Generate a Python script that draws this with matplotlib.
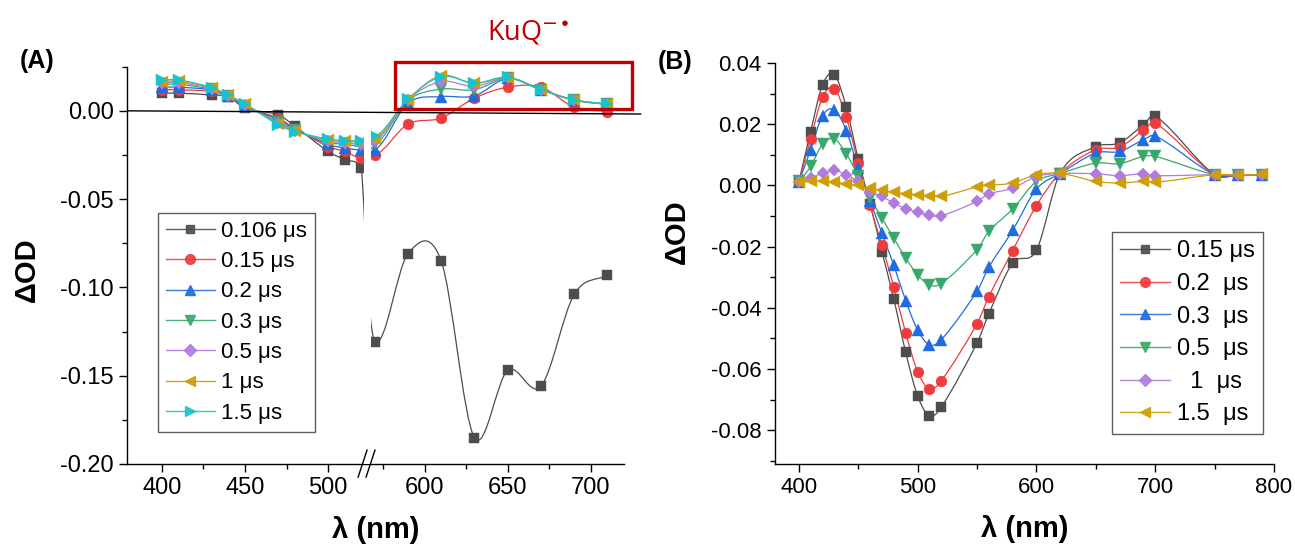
import numpy as np
import matplotlib
matplotlib.use("Agg")
import matplotlib.pyplot as plt
from matplotlib.path import Path
from matplotlib.patches import PathPatch, Rectangle
from matplotlib.lines import Line2D
from matplotlib.ticker import FixedLocator, MultipleLocator, FormatStrFormatter

plt.rcParams['font.family'] = ['Liberation Sans', 'DejaVu Sans']
plt.rcParams['axes.unicode_minus'] = False
plt.rcParams['mathtext.fontset'] = 'dejavusans'

# ---- panel A: spectra with a broken wavelength axis ----
wl_a_left = [400, 410, 430, 440, 450, 470, 480, 500, 510, 520]
wl_a_right = [570, 590, 610, 630, 650, 670, 690, 710]

a_labels = ['0.106 μs', '0.15 μs', '0.2 μs', '0.3 μs', '0.5 μs', '1 μs', '1.5 μs']
a_left = [
    [0.010, 0.010, 0.009, 0.008, 0.0015, -0.0023, -0.0087, -0.023, -0.0277, -0.0325],
    [0.0119, 0.0119, 0.011, 0.0083, 0.0022, -0.0041, -0.0100, -0.0202, -0.0230, -0.0268],
    [0.0134, 0.0134, 0.0118, 0.0084, 0.0025, -0.0050, -0.0104, -0.0190, -0.0210, -0.0222],
    [0.0150, 0.0150, 0.0122, 0.0085, 0.0030, -0.0062, -0.0110, -0.0178, -0.0190, -0.0200],
    [0.0160, 0.0160, 0.0126, 0.0086, 0.0034, -0.0070, -0.0113, -0.0172, -0.0180, -0.0190],
    [0.0166, 0.0168, 0.0130, 0.0087, 0.0037, -0.0075, -0.0115, -0.0165, -0.0172, -0.0178],
    [0.0175, 0.0175, 0.0132, 0.0087, 0.0040, -0.0079, -0.0117, -0.0160, -0.0168, -0.0168],
]
a_right = [
    [-0.131, -0.081, -0.085, -0.185, -0.147, -0.156, -0.104, -0.093],
    [-0.0250, -0.0075, -0.0041, 0.0072, 0.0134, 0.0135, 0.0021, -0.0004],
    [-0.0220, 0.0043, 0.0081, 0.0085, 0.0184, 0.0120, 0.0060, 0.0036],
    [-0.0190, 0.0058, 0.0123, 0.0119, 0.0185, 0.0120, 0.0062, 0.0037],
    [-0.0170, 0.0062, 0.0166, 0.0138, 0.0186, 0.0120, 0.0062, 0.0037],
    [-0.0157, 0.0064, 0.0200, 0.0155, 0.0188, 0.0120, 0.0062, 0.0038],
    [-0.0145, 0.0066, 0.0194, 0.0157, 0.0190, 0.0119, 0.0062, 0.0038],
]

# ---- panel B ----
wl_b = [400, 410, 420, 430, 440, 450, 460, 470, 480, 490, 500, 510, 520,
        550, 560, 580, 600, 620, 650, 670, 690, 700, 750, 770, 790]
b_labels = ['0.15 μs', '0.2  μs', '0.3  μs', '0.5  μs', '  1  μs', '1.5  μs']
b_vals = [
    [0.0010, 0.0176, 0.0329, 0.0362, 0.0255, 0.0087, -0.0060, -0.0216, -0.0371, -0.0545, -0.0687, -0.0753, -0.0724,
     -0.0515, -0.0419, -0.0254, -0.0212, 0.0040, 0.0127, 0.0139, 0.0198, 0.0228, 0.0035, 0.0034, 0.0035],
    [0.0010, 0.0152, 0.0289, 0.0316, 0.0223, 0.0073, -0.0065, -0.0196, -0.0332, -0.0482, -0.0608, -0.0665, -0.0638,
     -0.0452, -0.0363, -0.0213, -0.0066, 0.0040, 0.0117, 0.0125, 0.0180, 0.0204, 0.0035, 0.0034, 0.0035],
    [0.0010, 0.0117, 0.0228, 0.0247, 0.0179, 0.0057, -0.0050, -0.0156, -0.0261, -0.0376, -0.0472, -0.0521, -0.0504,
     -0.0346, -0.0267, -0.0147, -0.0012, 0.0039, 0.0106, 0.0111, 0.0149, 0.0162, 0.0035, 0.0034, 0.0035],
    [0.0013, 0.0062, 0.0135, 0.0152, 0.0103, 0.0032, -0.0040, -0.0107, -0.0172, -0.0237, -0.0292, -0.0325, -0.0321,
     -0.0210, -0.0150, -0.0077, 0.0013, 0.0039, 0.0073, 0.0071, 0.0095, 0.0095, 0.0035, 0.0034, 0.0035],
    [0.0010, 0.0024, 0.0040, 0.0049, 0.0035, 0.0013, -0.0020, -0.0036, -0.0058, -0.0076, -0.0087, -0.0098, -0.0099,
     -0.0052, -0.0028, -0.0009, 0.0029, 0.0039, 0.0038, 0.0032, 0.0038, 0.0032, 0.0035, 0.0034, 0.0035],
    [0.0011, 0.0013, 0.0013, 0.0012, 0.0005, 0.0000, -0.0009, -0.0016, -0.0022, -0.0027, -0.0030, -0.0034, -0.0036,
     -0.0005, 0.0000, 0.0008, 0.0035, 0.0040, 0.0013, 0.0008, 0.0013, 0.0010, 0.0035, 0.0034, 0.0036],
]

colors = ['#4d4d4d', '#ee3b3d', '#1f6be0', '#38a86b', '#b07ade', '#cf9d05', '#17c4cd']
markers = ['s', 'o', '^', 'v', 'D', '<', '>']
msizes = [6.8, 7.8, 8.5, 8.5, 6.3, 8.5, 8.5]

# axis break: 522..566 nm is squeezed into 2 units
GAP_A, GAP_B, GAP_W = 522.0, 566.0, 2.0


def brk_fwd(x):
    x = np.asarray(x, float)
    return np.where(x <= GAP_A, x,
                    np.where(x >= GAP_B, x - (GAP_B - GAP_A) + GAP_W,
                             GAP_A + (x - GAP_A) * GAP_W / (GAP_B - GAP_A)))


def brk_inv(x):
    x = np.asarray(x, float)
    return np.where(x <= GAP_A, x,
                    np.where(x >= GAP_A + GAP_W, x + (GAP_B - GAP_A) - GAP_W,
                             GAP_A + (x - GAP_A) * (GAP_B - GAP_A) / GAP_W))


def smooth_path(x, y):
    # cubic Hermite through the points, written as Bezier segments
    x = np.asarray(x, float)
    y = np.asarray(y, float)
    n = len(x)
    m = np.empty(n)
    m[0] = (y[1] - y[0]) / (x[1] - x[0])
    m[-1] = (y[-1] - y[-2]) / (x[-1] - x[-2])
    m[1:-1] = (y[2:] - y[:-2]) / (x[2:] - x[:-2])
    verts = [(x[0], y[0])]
    codes = [Path.MOVETO]
    for i in range(n - 1):
        h = x[i + 1] - x[i]
        verts += [(x[i] + h / 3, y[i] + m[i] * h / 3),
                  (x[i + 1] - h / 3, y[i + 1] - m[i + 1] * h / 3),
                  (x[i + 1], y[i + 1])]
        codes += [Path.CURVE4] * 3
    return Path(verts, codes)


def draw_series(ax, x, y, i, lw=0.9):
    ax.add_patch(PathPatch(smooth_path(x, y), fill=False, edgecolor=colors[i],
                           lw=lw, zorder=2))
    ax.plot(x, y, ls='none', marker=markers[i], ms=msizes[i], color=colors[i],
            mec=colors[i], mew=0.3, zorder=3)


def style_axis(ax):
    for side in ['top', 'right']:
        ax.spines[side].set_visible(False)
    for side in ['left', 'bottom']:
        ax.spines[side].set_linewidth(1.0)
    ax.tick_params(which='major', direction='out', length=6, width=1.0)
    ax.tick_params(which='minor', direction='out', length=3.5, width=1.0)


fig = plt.figure(figsize=(12.95, 5.51), dpi=100)

# ---------------- panel A ----------------
axA = fig.add_axes([127 / 1295, 87 / 551, 497 / 1295, 397.3 / 551])
axA.set_xscale('function', functions=(brk_fwd, brk_inv))
axA.set_xlim(379, 720)
axA.set_ylim(-0.20, 0.025)

for i in range(len(a_labels)):
    wl = wl_a_left + wl_a_right
    vals = a_left[i] + a_right[i]
    draw_series(axA, wl, vals, i)

# blank the break region
axA.axvspan(521.6, 568.0, color='white', zorder=4, lw=0)
axA.plot([380, 730], [0.0, -0.0018], color='black', lw=1.0, zorder=5, clip_on=False)

axA.xaxis.set_major_locator(FixedLocator([400, 450, 500, 600, 650, 700]))
axA.xaxis.set_minor_locator(FixedLocator([425, 475, 575, 625, 675]))
axA.xaxis.set_major_formatter(FormatStrFormatter('%d'))
axA.yaxis.set_major_locator(MultipleLocator(0.05))
axA.yaxis.set_minor_locator(MultipleLocator(0.025))
axA.yaxis.set_major_formatter(FormatStrFormatter('%.2f'))
style_axis(axA)
axA.tick_params(labelsize=17)

# break marks on the wavelength axis
for x0 in (0.465, 0.481):
    axA.plot([x0, x0 + 0.018], [-0.033, 0.035], transform=axA.transAxes,
             color='black', lw=1.0, clip_on=False, zorder=6)

# KuQ radical anion region
axA.add_patch(Rectangle((582.3, 0.0011), 724.8 - 582.3, 0.0277 - 0.0011,
                        fill=False, edgecolor='#c00000', lw=2.4, clip_on=False, zorder=6))
fig.text(486.7 / 1295, 1 - 40 / 551, r'KuQ$^{-\!\bullet}$', color='#c00000',
         fontsize=19.5, family=['Open Sans', 'DejaVu Sans'], va='baseline')

axA.set_xlabel('λ (nm)', fontsize=21, fontweight='bold', labelpad=12)
axA.set_ylabel('ΔOD', fontsize=21, fontweight='bold')
axA.yaxis.set_label_coords(-0.173, 0.49)

handlesA = [Line2D([], [], color=colors[i], marker=markers[i], ms=msizes[i] * 0.9,
                   lw=1.0, alpha=0.9) for i in range(len(a_labels))]
legA = axA.legend(handlesA, a_labels, loc='upper left', bbox_to_anchor=(158 / 1295, 1 - 213 / 551),
                  bbox_transform=fig.transFigure, fontsize=16, frameon=True, fancybox=False,
                  borderaxespad=0, borderpad=0.35, labelspacing=0.42, handlelength=2.2,
                  handletextpad=0.3)
legA.get_frame().set_edgecolor('#333333')
legA.get_frame().set_linewidth(1.0)
legA.set_zorder(10)

fig.text(20 / 1295, 1 - 61 / 551, '(A)', fontsize=18, fontweight='bold', va='center')

# ---------------- panel B ----------------
axB = fig.add_axes([775 / 1295, 87 / 551, 499 / 1295, 401 / 551])
axB.set_xlim(380, 800)
axB.set_ylim(-0.091, 0.04)
for i in range(len(b_labels)):
    draw_series(axB, wl_b, b_vals[i], i)

axB.xaxis.set_major_locator(MultipleLocator(100))
axB.xaxis.set_minor_locator(MultipleLocator(50))
axB.yaxis.set_major_locator(MultipleLocator(0.02))
axB.yaxis.set_minor_locator(MultipleLocator(0.01))
axB.yaxis.set_major_formatter(FormatStrFormatter('%.2f'))
style_axis(axB)
axB.tick_params(labelsize=16)

axB.set_xlabel('λ (nm)', fontsize=21, fontweight='bold', labelpad=12)
axB.set_ylabel('ΔOD', fontsize=21, fontweight='bold')
axB.yaxis.set_label_coords(-0.168, 0.579)

handlesB = [Line2D([], [], color=colors[i], marker=markers[i], ms=msizes[i] * 0.9,
                   lw=1.0, alpha=0.9) for i in range(len(b_labels))]
legB = axB.legend(handlesB, b_labels, loc='upper left', bbox_to_anchor=(1112 / 1295, 1 - 232 / 551),
                  bbox_transform=fig.transFigure, fontsize=17, frameon=True, fancybox=False,
                  borderaxespad=0, borderpad=0.35, labelspacing=0.45, handlelength=2.1,
                  handletextpad=0.3)
legB.get_frame().set_edgecolor('#333333')
legB.get_frame().set_linewidth(1.0)

fig.text(658 / 1295, 1 - 62 / 551, '(B)', fontsize=18, fontweight='bold', va='center')

fig.savefig('out.png', dpi=100)
